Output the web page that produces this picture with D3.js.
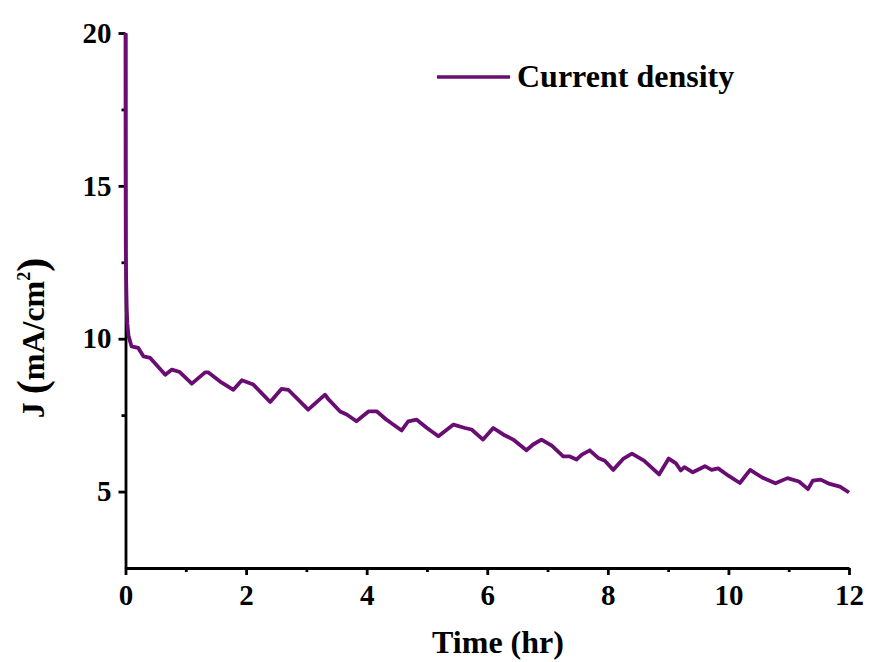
<!DOCTYPE html>
<html>
<head>
<meta charset="utf-8">
<script src="https://cdn.jsdelivr.net/npm/d3@7"></script>
<style>
  body { margin: 0; background: #fff; }
  svg text { font-family: "Liberation Serif", "Times New Roman", serif; font-weight: bold; fill: #000; }
</style>
</head>
<body>
<div id="chart"></div>
<script>
// chart size
const width = 870;
const height = 662;
const margin = { top: 33, right: 21, bottom: 94, left: 125.5 };

// data: time (hr) and current density (mA/cm2)
const timeHr = [
  0, 0.002, 0.005, 0.01, 0.02, 0.03, 0.05, 0.1, 0.21, 0.3, 0.41, 0.66, 0.77, 0.9,
  1.1, 1.32, 1.37, 1.57, 1.79, 1.93, 2.12, 2.4, 2.59, 2.7, 3.03, 3.23, 3.31,
  3.36, 3.56, 3.67, 3.83, 4.03, 4.17, 4.33, 4.58, 4.69, 4.83, 5.0, 5.19, 5.44,
  5.63, 5.74, 5.93, 6.1, 6.27, 6.43, 6.65, 6.76, 6.9, 7.07, 7.26, 7.37, 7.48,
  7.57, 7.7, 7.84, 7.95, 8.09, 8.26, 8.4, 8.6, 8.85, 9.01, 9.13, 9.21, 9.27,
  9.41, 9.61, 9.72, 9.83, 10.0, 10.19, 10.36, 10.56, 10.78, 10.98, 11.17,
  11.32, 11.4, 11.53, 11.68, 11.85, 12.0
];
const density = [
  20, 15.5, 13, 12, 11.0, 10.5, 10.1, 9.75, 9.7, 9.42, 9.37, 8.82, 8.99, 8.91,
  8.53, 8.9, 8.9, 8.6, 8.33, 8.64, 8.5, 7.93, 8.36, 8.33, 7.68, 8.03, 8.17,
  8.03, 7.62, 7.52, 7.3, 7.62, 7.62, 7.35, 7.0, 7.3, 7.35, 7.08, 6.81, 7.19,
  7.08, 7.03, 6.7, 7.08, 6.86, 6.7, 6.35, 6.54, 6.7, 6.5, 6.15, 6.15, 6.05,
  6.21, 6.35, 6.1, 6.01, 5.71, 6.08, 6.24, 6.01, 5.56, 6.08, 5.92, 5.69, 5.8,
  5.63, 5.83, 5.71, 5.76, 5.52, 5.28, 5.71, 5.46, 5.27, 5.44, 5.33,
  5.08, 5.36, 5.39, 5.25, 5.16, 4.97
];

// tick values
const xMajor = [0, 2, 4, 6, 8, 10, 12];
const xMinor = [1, 3, 5, 7, 9, 11];
const yMajor = [5, 10, 15, 20];
const yMinor = [7.5, 12.5, 17.5];

const lineColor = "#6a0d72";

const svg = d3.select("#chart")
  .append("svg")
  .attr("width", width)
  .attr("height", height);

const x = d3.scaleLinear()
  .domain([0, 12])
  .range([margin.left, width - margin.right]);

const y = d3.scaleLinear()
  .domain([2.5, 20])
  .range([height - margin.bottom, margin.top]);

// x axis
svg.append("g")
  .attr("transform", `translate(0,${height - margin.bottom})`)
  .call(d3.axisBottom(x).tickValues(xMajor).tickSize(7).tickSizeOuter(0).tickPadding(9));
svg.append("g")
  .attr("transform", `translate(0,${height - margin.bottom})`)
  .call(d3.axisBottom(x).tickValues(xMinor).tickSize(4).tickSizeOuter(0).tickFormat(""))
  .select(".domain").remove();

// y axis
svg.append("g")
  .attr("transform", `translate(${margin.left},0)`)
  .call(d3.axisLeft(y).tickValues(yMajor).tickSize(7).tickSizeOuter(0).tickPadding(7));
svg.append("g")
  .attr("transform", `translate(${margin.left},0)`)
  .call(d3.axisLeft(y).tickValues(yMinor).tickSize(4).tickSizeOuter(0).tickFormat(""))
  .select(".domain").remove();

svg.selectAll(".domain, .tick line")
  .attr("stroke", "#000")
  .attr("stroke-width", 2.8);

svg.selectAll(".tick text")
  .style("font-size", "29px")
  .style("font-family", "'Liberation Serif', serif")
  .style("font-weight", "bold");

// the curve
const line = d3.line()
  .x((d, i) => x(timeHr[i]))
  .y(d => y(d));

svg.append("path")
  .datum(density)
  .attr("d", line)
  .attr("fill", "none")
  .attr("stroke", lineColor)
  .attr("stroke-width", 3.8)
  .attr("stroke-linejoin", "round");

// axis titles
svg.append("text")
  .attr("x", 498)
  .attr("y", 653)
  .attr("text-anchor", "middle")
  .style("font-size", "32px")
  .text("Time (hr)");

const yTitle = svg.append("text")
  .attr("transform", "translate(44,338) rotate(-90)")
  .attr("text-anchor", "middle")
  .style("font-size", "32px");
yTitle.append("tspan").text("J ");
yTitle.append("tspan").style("font-size", "42px").attr("dy", 2).text("(");
yTitle.append("tspan").attr("dy", -2).text("mA/cm");
yTitle.append("tspan").style("font-size", "18px").attr("dy", -14).text("2");
yTitle.append("tspan").style("font-size", "42px").attr("dy", 16).text(")");

// legend
svg.append("line")
  .attr("x1", 437).attr("x2", 510)
  .attr("y1", 77).attr("y2", 77)
  .attr("stroke", lineColor)
  .attr("stroke-width", 3.5);
svg.append("text")
  .attr("x", 517)
  .attr("y", 87)
  .style("font-size", "32px")
  .text("Current density");
</script>
</body>
</html>
